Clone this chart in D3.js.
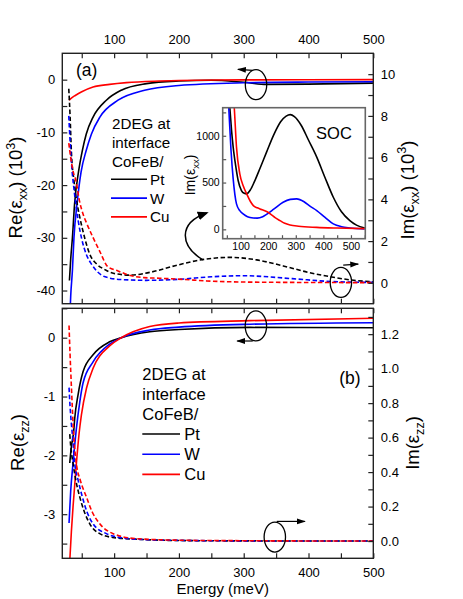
<!DOCTYPE html>
<html>
<head>
<meta charset="utf-8">
<script src="https://cdn.jsdelivr.net/npm/d3@7"></script>
<style>
  body { margin: 0; background: #fff; }
  text { font-family: "Liberation Sans", Arial, sans-serif; }
</style>
</head>
<body>
<svg width="463" height="599"></svg>
<script>
// panel (a): Re / Im of eps_xx, in 10^3, [energy meV, value]
var ptReXX = [[31,-38.1],[33,-34],[35.6,-30],[39,-23.5],[45,-17.5],[51,-13.4],[57,-10.3],[67.5,-7.1],[88,-3.9],[111,-2.0],[150,-0.76],[200,-0.25],[250,-0.1],[300,-0.5],[335,-0.9],[400,-0.85],[450,-0.75],[500,-0.65]];
var wReXX  = [[32,-44],[33,-41],[35.6,-36.2],[38,-30],[42.8,-23.5],[49,-17.5],[57,-13.4],[65,-10.3],[78,-7.1],[106,-3.9],[147,-2.0],[200,-1.1],[300,-0.6],[400,-0.45],[500,-0.4]];
var cuReXX = [[30.4,-3.9],[35,-3.4],[40,-3.0],[50,-2.3],[67.5,-1.4],[93,-0.9],[119,-0.57],[170,-0.26],[200,-0.15],[300,-0.05],[400,-0.02],[500,0]];

var ptImXX = [[30,9.3],[32,8.0],[34,6.3],[38,4.9],[44,3.6],[48,3.0],[55,2.1],[62,1.4],[73,0.9],[83,0.68],[100,0.45],[125,0.37],[155,0.5],[194,0.82],[230,1.08],[279,1.22],[320,1.1],[361,0.81],[400,0.5],[436,0.28],[470,0.12],[500,0.05]];
var wImXX  = [[30,8.0],[32,6.8],[35,5.4],[38,4.5],[44.4,3.0],[50,2.1],[57,1.37],[65,0.9],[73,0.57],[85,0.3],[110,0.16],[150,0.12],[200,0.17],[250,0.29],[300,0.34],[375,0.2],[436,0.06],[500,0.02]];
var cuImXX = [[30,6.7],[33,6.0],[37,5.3],[41,4.9],[46,4.0],[52,3.3],[57,2.9],[67,2.2],[78,1.5],[90,0.78],[106,0.57],[122,0.38],[146,0.25],[170,0.22],[206,0.165],[243,0.09],[279,0.05],[376,0.02],[500,0.01]];

// inset: Im(eps_xx) from SOC
var ptSOC = [[55,1500],[61,1297],[67,1060],[73,879],[82,680],[91,522],[103,415],[113,385],[122,379],[135,420],[150,510],[170,650],[194,825],[220,1010],[245,1150],[265,1210],[280,1226],[295,1205],[320,1110],[345,960],[376,772],[405,560],[436,343],[465,190],[496,93],[520,45],[550,15]];
var wSOC  = [[52,1500],[57,1297],[65,850],[73,540],[85,272],[97,200],[109,165],[125,135],[146,122],[160,120],[180,135],[194,160],[220,215],[254,290],[280,320],[303,326],[330,295],[350,250],[376,200],[405,130],[436,58],[466,28],[496,15],[550,3]];
var cuSOC = [[72,1500],[77,1297],[85,879],[97,594],[110,460],[122,379],[135,300],[146,254],[160,230],[170,218],[194,190],[212,155],[225,125],[243,93],[260,65],[279,47],[310,33],[376,21],[450,14],[550,8]];

// panel (b): Re / Im of eps_zz
var ptReZZ = [[31.5,-2.13],[34,-1.85],[37.5,-1.6],[39.2,-1.37],[44.3,-0.97],[52,-0.58],[67.5,-0.29],[93,-0.07],[111,0],[155,0.1],[200,0.14],[310,0.175],[500,0.17]];
var wReZZ  = [[30.4,-3.15],[33,-2.6],[36.6,-2.13],[41.7,-1.55],[47,-1.09],[52,-0.77],[67.5,-0.41],[93,-0.11],[111,0],[155,0.13],[200,0.18],[310,0.23],[500,0.255]];
var cuReZZ = [[31,-3.9],[34,-3.3],[36.6,-2.87],[41.8,-2.13],[46,-1.62],[49.5,-1.31],[57.3,-0.86],[67.5,-0.52],[93,-0.14],[111,0],[155,0.19],[200,0.25],[310,0.29],[500,0.33]];

var ptImZZ = [[31.5,0.62],[33,0.55],[36.6,0.45],[41,0.35],[47,0.255],[54,0.17],[62.4,0.1],[77.8,0.043],[100,0.02],[150,0.008],[200,0.003],[300,0.001],[500,0]];
var wImZZ  = [[30.4,0.89],[32,0.78],[34,0.68],[36,0.6],[39.2,0.448],[44,0.36],[51,0.255],[58,0.17],[67.5,0.1],[88,0.043],[110,0.02],[150,0.008],[200,0.004],[300,0.001],[500,0]];
var cuImZZ = [[30.4,1.25],[32,1.08],[34,0.9],[37.7,0.61],[41.8,0.448],[48,0.35],[57.3,0.255],[66,0.17],[77.8,0.1],[98.4,0.043],[134,0.014],[200,0.005],[300,0.002],[500,0]];

var metals = ["Pt", "W", "Cu"];
var colors = ["#000000", "#0000ff", "#ff0000"];
var xTicks = d3.range(50, 501, 50);

var svg = d3.select("svg");

var x  = d3.scaleLinear().domain([20, 500]).range([62.3, 373.3]);
var yA = d3.scaleLinear().domain([-42.5, 5]).range([303.7, 53.3]);
var yA2 = d3.scaleLinear().domain([-1, 11]).range([303.7, 53.3]);
var yB = d3.scaleLinear().domain([-3.75, 0.5]).range([558.3, 308.3]);
var yB2 = d3.scaleLinear().domain([-0.1, 1.35]).range([558.3, 308.3]);
var xi = d3.scaleLinear().domain([35, 552]).range([222.7, 365.3]);
var yi = d3.scaleLinear().domain([-100, 1300]).range([238.7, 107.7]);

var defs = svg.append("defs");
function clip(id, xs, ys) {
  defs.append("clipPath").attr("id", id).append("rect")
    .attr("x", xs.range()[0]).attr("y", ys.range()[1])
    .attr("width", xs.range()[1] - xs.range()[0])
    .attr("height", ys.range()[0] - ys.range()[1]);
}
clip("clipA", x, yA);
clip("clipB", x, yB);
clip("clipI", xi, yi);

defs.append("marker").attr("id", "head")
  .attr("markerUnits", "userSpaceOnUse")
  .attr("markerWidth", 9).attr("markerHeight", 7)
  .attr("refX", 8).attr("refY", 3.5).attr("orient", "auto")
  .append("path").attr("d", "M0,0.5 L9,3.5 L0,6.5 Z").attr("fill", "#000");
defs.append("marker").attr("id", "bighead")
  .attr("markerUnits", "userSpaceOnUse")
  .attr("markerWidth", 11).attr("markerHeight", 9)
  .attr("refX", 9).attr("refY", 4.5).attr("orient", "auto")
  .append("path").attr("d", "M0,0 L11,4.5 L0,9 Z").attr("fill", "#000");

function curves(g, sets, xs, ys, dashed) {
  var line = d3.line()
    .x(function(d) { return xs(d[0]); })
    .y(function(d) { return ys(d[1]); })
    .curve(d3.curveMonotoneX);
  sets.forEach(function(s, i) {
    g.append("path")
      .attr("d", line(s))
      .attr("fill", "none")
      .attr("stroke", colors[i])
      .attr("stroke-width", 1.6)
      .attr("stroke-dasharray", dashed ? "4.5,2.5" : null);
  });
}

function axis(gen, tx, ty, fs, col) {
  var g = svg.append("g").attr("transform", "translate(" + tx + "," + ty + ")").call(gen);
  g.select(".domain").remove();
  g.selectAll("line").attr("stroke", col || "#222").attr("stroke-width", 1.2);
  g.selectAll("text").attr("fill", "#000").style("font-size", fs + "px")
    .style("font-family", "'Liberation Sans', Arial, sans-serif");
  return g;
}

function frame(xs, ys, col, w) {
  svg.append("rect")
    .attr("x", xs.range()[0]).attr("y", ys.range()[1])
    .attr("width", xs.range()[1] - xs.range()[0])
    .attr("height", ys.range()[0] - ys.range()[1])
    .attr("fill", "none").attr("stroke", col).attr("stroke-width", w);
}

function hundreds(d) { return d % 100 ? "" : d; }
function ellipse(cx, cy) {
  svg.append("ellipse").attr("cx", cx).attr("cy", cy).attr("rx", 10.7).attr("ry", 15)
    .attr("fill", "none").attr("stroke", "#000").attr("stroke-width", 1.3);
}
function arrow(x1, y1, x2, y2) {
  svg.append("line").attr("x1", x1).attr("y1", y1).attr("x2", x2).attr("y2", y2)
    .attr("stroke", "#000").attr("stroke-width", 1.2).attr("marker-end", "url(#head)");
}
function label(g, xx, yy, fs, parts, rot) {
  var t = g.append("text").attr("transform", "translate(" + xx + "," + yy + ")" + (rot ? " rotate(-90)" : ""))
    .attr("text-anchor", "middle").style("font-size", fs + "px");
  parts.forEach(function(p) {
    var s = t.append("tspan").text(p[0]);
    if (p[1] === "sub") s.attr("dy", fs * 0.28).style("font-size", (fs * 0.68) + "px");
    else if (p[1] === "sup") s.attr("dy", -fs * 0.4).style("font-size", (fs * 0.68) + "px");
    if (p[2]) s.attr("dy", p[2]);
  });
  return t;
}

// ---- panel (a)
var gA = svg.append("g").attr("clip-path", "url(#clipA)");
curves(gA, [ptReXX, wReXX, cuReXX], x, yA, false);
curves(gA, [ptImXX, wImXX, cuImXX], x, yA2, true);

axis(d3.axisTop(x).tickValues(xTicks).tickSize(-5).tickPadding(9.5).tickFormat(hundreds), 0, 53.3, 13);
axis(d3.axisBottom(x).tickValues(xTicks).tickSize(-5).tickFormat(""), 0, 303.7, 13);
axis(d3.axisLeft(yA).tickValues(d3.range(-40, 5, 5)).tickSize(-5).tickPadding(7)
  .tickFormat(function(d) { return d % 10 ? "" : String(d); }), 62.3, 0, 13);
axis(d3.axisRight(yA2).tickValues(d3.range(0, 11)).tickSize(-5).tickPadding(7.5)
  .tickFormat(function(d) { return d % 2 ? "" : String(d); }), 373.3, 0, 13);
frame(x, yA, "#222", 1.4);

// inset
svg.append("rect").attr("x", 222.7).attr("y", 107.7).attr("width", 142.6).attr("height", 131).attr("fill", "#fff");
var gI = svg.append("g").attr("clip-path", "url(#clipI)");
curves(gI, [ptSOC, wSOC, cuSOC], xi, yi, false);
axis(d3.axisBottom(xi).tickValues(d3.range(50, 551, 50)).tickSize(-3.5).tickPadding(4).tickFormat(hundreds), 0, 238.7, 10.5, "#555");
axis(d3.axisLeft(yi).tickValues([0, 250, 500, 750, 1000, 1250]).tickSize(-3.5).tickPadding(3)
  .tickFormat(function(d) { return d % 500 ? "" : String(d); }), 222.7, 0, 10.5, "#555");
frame(xi, yi, "#666", 1.6);
svg.append("text").attr("x", 334).attr("y", 138.5).attr("text-anchor", "middle")
  .style("font-size", "16.5px").text("SOC");
label(svg, 195, 175, 14, [["Im(ε"], ["xx", "sub"], [")", null, -14 * 0.28]], true);

// panel (a) texts
svg.append("text").attr("x", 76).attr("y", 75.5).style("font-size", "17.5px").text("(a)");
label(svg, 22, 187.5, 18.5, [["Re(ε"], ["xx", "sub"], [") (10", null, -18.5 * 0.28], ["3", "sup"], [")", null, 18.5 * 0.4]], true);
label(svg, 413.5, 190, 18.5, [["Im(ε"], ["xx", "sub"], [") (10", null, -18.5 * 0.28], ["3", "sup"], [")", null, 18.5 * 0.4]], true);

var legA = svg.append("g").style("font-size", "15.2px");
["2DEG at", "interface", "CoFeB/"].forEach(function(t, i) {
  legA.append("text").attr("x", 112).attr("y", 129.3 + i * 18.6).text(t);
});
metals.forEach(function(m, i) {
  legA.append("line").attr("x1", 111).attr("x2", 147)
    .attr("y1", 179.3 + i * 18.8).attr("y2", 179.3 + i * 18.8)
    .attr("stroke", colors[i]).attr("stroke-width", 1.6);
  legA.append("text").attr("x", 150).attr("y", 185 + i * 18.65).text(m);
});

// annotations (a)
ellipse(x(319), yA(-0.95));
arrow(x(314), yA(1.77), x(291), yA(1.96));
ellipse(x(450), yA2(0.02));
arrow(x(453.6), yA2(0.85), x(476.8), yA2(0.9));
svg.append("path")
  .attr("d", "M" + x(237) + "," + yA2(1.1) + " C" + x(201.4) + "," + yA2(1.77) + " " +
    x(198.3) + "," + yA2(2.87) + " " + x(243) + "," + yA2(3.35))
  .attr("fill", "none").attr("stroke", "#000").attr("stroke-width", 1.5)
  .attr("marker-end", "url(#bighead)");

// ---- panel (b)
var gB = svg.append("g").attr("clip-path", "url(#clipB)");
curves(gB, [ptReZZ, wReZZ, cuReZZ], x, yB, false);
curves(gB, [ptImZZ, wImZZ, cuImZZ], x, yB2, true);

axis(d3.axisTop(x).tickValues(xTicks).tickSize(-5).tickFormat(""), 0, 308.3, 13);
axis(d3.axisBottom(x).tickValues(xTicks).tickSize(-5).tickPadding(9.5).tickFormat(hundreds), 0, 558.3, 13);
axis(d3.axisLeft(yB).tickValues(d3.range(-3.5, 0.6, 0.5)).tickSize(-5).tickPadding(7)
  .tickFormat(function(d) { return d % 1 ? "" : String(d); }), 62.3, 0, 13);
axis(d3.axisRight(yB2).tickValues(d3.range(0, 14).map(function(i) { return i / 10; })).tickSize(-5).tickPadding(7.5)
  .tickFormat(function(d) { return Math.round(d * 10) % 2 ? "" : d3.format(".1f")(d); }), 373.3, 0, 13);
frame(x, yB, "#222", 1.4);

svg.append("text").attr("x", 339.3).attr("y", 383.5).style("font-size", "17.5px").text("(b)");
label(svg, 23.5, 442.5, 18.5, [["Re(ε"], ["zz", "sub"], [")", null, -18.5 * 0.28]], true);
label(svg, 418.5, 443, 18.5, [["Im(ε"], ["zz", "sub"], [")", null, -18.5 * 0.28]], true);
svg.append("text").attr("x", 222.7).attr("y", 594).attr("text-anchor", "middle")
  .style("font-size", "15px").text("Energy (meV)");

var legB = svg.append("g").style("font-size", "16.5px");
["2DEG at", "interface", "CoFeB/"].forEach(function(t, i) {
  legB.append("text").attr("x", 142.3).attr("y", 380 + i * 20).text(t);
});
metals.forEach(function(m, i) {
  legB.append("line").attr("x1", 142.3).attr("x2", 180)
    .attr("y1", 434 + i * 20.2).attr("y2", 434 + i * 20.2)
    .attr("stroke", colors[i]).attr("stroke-width", 1.6);
  legB.append("text").attr("x", 184.3).attr("y", 440 + i * 20).text(m);
});

// annotations (b)
ellipse(x(318.8), yB(0.2));
arrow(x(314), yB(-0.056), x(290), yB(-0.056));
ellipse(x(348), yB2(0.023));
arrow(x(351), yB2(0.114), x(394.4), yB2(0.114));
</script>
</body>
</html>
